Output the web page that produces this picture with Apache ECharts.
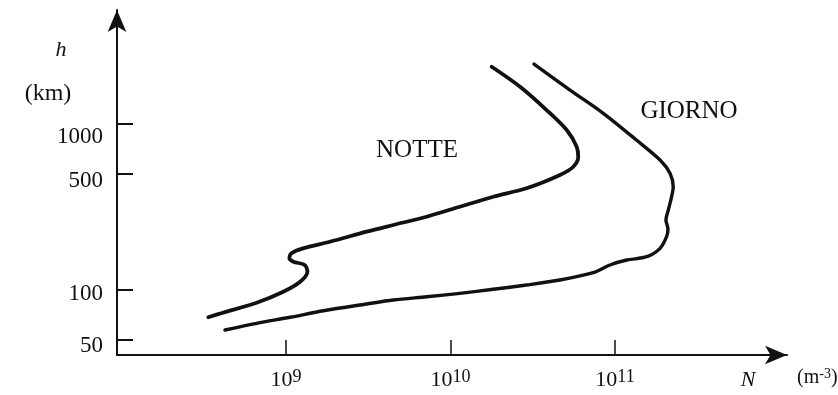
<!DOCTYPE html>
<html>
<head>
<meta charset="utf-8">
<script src="https://cdn.jsdelivr.net/npm/echarts@6/dist/echarts.min.js"></script>
<style>
  html, body { margin: 0; padding: 0; background: #ffffff; }
  #chart { width: 838px; height: 395px; }
</style>
</head>
<body>
<div id="chart"></div>
<script>
// Electron density N (m^-3) versus altitude h (km), night and day profiles
const nightN = [3.37e8, 4.14e8, 6.64e8, 9.63e8, 1.22e9, 1.35e9, 1.30e9, 1.11e9, 1.05e9, 1.08e9,
                1.27e9, 1.85e9, 3.09e9, 4.49e9, 7.17e9, 1.14e10, 1.82e10, 2.90e10, 4.63e10,
                5.58e10, 5.98e10, 5.85e10, 5.09e10, 3.84e10, 2.65e10, 1.78e10];
const nightH = [68.5, 73.0, 83.9, 97.7, 112.2, 128.9, 141.5, 148.1, 155.2, 166.4,
                178.3, 195.4, 224.5, 246.4, 276.4, 317.5, 364.8, 410.1, 493,
                553, 635, 730, 920, 1214, 1677, 2214];

const dayN = [4.26e8, 6.64e8, 1.06e9, 1.69e9, 3.09e9, 4.49e9, 7.17e9, 1.14e10, 1.82e10, 2.90e10,
              4.63e10, 7.38e10, 9.32e10, 1.18e11, 1.56e11, 1.88e11, 2.06e11, 2.10e11, 2.04e11,
              2.11e11, 2.21e11, 2.26e11, 2.16e11, 1.88e11, 1.35e11, 8.49e10, 5.33e10, 3.22e10];
const dayH = [57.4, 63.0, 68.5, 75.0, 82.4, 87.1, 91.1, 95.5, 101, 107.2,
              114.9, 127.1, 141.5, 151.6, 158.7, 178.3, 209.5, 233, 264,
              303.4, 364.8, 419, 505, 607, 801, 1160, 1602, 2298];

const xTicks = [1e9, 1e10, 1e11];
const yTicks = [50, 100, 500, 1000];
const curveNames = ['NOTTE', 'GIORNO'];

const serif = '"Liberation Serif", "Times New Roman", serif';
const ink = '#111111';

const pairs = (xs, ys) => xs.map((v, i) => [v, ys[i]]);

// individual vertical nudges of the height labels
const yLabelStyle = { 50: 'l50', 100: 'l100', 500: 'l500', 1000: 'l1000' };

const chart = echarts.init(document.getElementById('chart'), null, { renderer: 'canvas' });

chart.setOption({
  animation: false,
  backgroundColor: '#ffffff',
  grid: { left: 117, right: 51, top: 10, bottom: 40, containLabel: false },
  xAxis: {
    type: 'log',
    logBase: 10,
    min: 9.397e7,
    max: 1.111e12,
    splitLine: { show: false },
    axisLine: {
      show: true,
      onZero: false,
      lineStyle: { color: ink, width: 2 },
      symbol: ['none', 'arrow'],
      symbolSize: [14, 22]
    },
    axisTick: {
      show: true,
      inside: true,
      length: 15,
      customValues: xTicks,
      lineStyle: { color: ink, width: 1.5 }
    },
    axisLabel: {
      show: true,
      margin: 13,
      customValues: xTicks,
      color: ink,
      fontFamily: serif,
      formatter: v => '{b|10}{s|' + Math.round(Math.log10(v)) + '}',
      rich: {
        b: { fontFamily: serif, fontSize: 22, color: ink },
        s: { fontFamily: serif, fontSize: 18, color: ink, padding: [0, 0, 7, 0] }
      }
    }
  },
  yAxis: {
    type: 'log',
    logBase: 10,
    min: 40.6,
    max: 4862,
    splitLine: { show: false },
    axisLine: {
      show: true,
      onZero: false,
      lineStyle: { color: ink, width: 2 },
      symbol: ['none', 'arrow'],
      symbolSize: [14, 22]
    },
    axisTick: {
      show: true,
      inside: true,
      length: 16,
      customValues: yTicks,
      lineStyle: { color: ink, width: 2 }
    },
    axisLabel: {
      show: true,
      margin: 14,
      customValues: yTicks,
      color: ink,
      fontFamily: serif,
      fontSize: 23,
      formatter: v => '{' + yLabelStyle[Math.round(v)] + '|' + Math.round(v) + '}',
      rich: {
        l50: { fontFamily: serif, fontSize: 23, color: ink, padding: [12, 0, 0, 0] },
        l100: { fontFamily: serif, fontSize: 23, color: ink, padding: [8, 0, 0, 0] },
        l500: { fontFamily: serif, fontSize: 23, color: ink, padding: [14, 0, 0, 0] },
        l1000: { fontFamily: serif, fontSize: 23, color: ink, padding: [26, 0, 0, 0] }
      }
    }
  },
  series: [
    {
      name: curveNames[0],
      type: 'line',
      data: pairs(nightN, nightH),
      smooth: 0.3,
      showSymbol: false,
      lineStyle: { color: ink, width: 3.8, cap: 'round', join: 'round' }
    },
    {
      name: curveNames[1],
      type: 'line',
      data: pairs(dayN, dayH),
      smooth: 0.3,
      showSymbol: false,
      lineStyle: { color: ink, width: 3.4, cap: 'round', join: 'round' }
    }
  ],
  graphic: [
    { type: 'text', x: 61, y: 50, style: { text: 'h', font: 'italic 22px ' + serif, fill: ink, align: 'center', verticalAlign: 'middle' } },
    { type: 'text', x: 48, y: 94, style: { text: '(km)', font: '24px ' + serif, fill: ink, align: 'center', verticalAlign: 'middle' } },
    { type: 'text', x: 417, y: 150, style: { text: curveNames[0], font: '25px ' + serif, fill: ink, align: 'center', verticalAlign: 'middle' } },
    { type: 'text', x: 689, y: 111, style: { text: curveNames[1], font: '25px ' + serif, fill: ink, align: 'center', verticalAlign: 'middle' } },
    { type: 'text', x: 748, y: 380, style: { text: 'N', font: 'italic 22px ' + serif, fill: ink, align: 'center', verticalAlign: 'middle' } },
    {
      type: 'text', x: 797, y: 378,
      style: {
        text: '{p|(m}{s|-3}{p|)}',
        align: 'left', verticalAlign: 'middle', fill: ink,
        rich: {
          p: { fontFamily: serif, fontSize: 20, color: ink },
          s: { fontFamily: serif, fontSize: 14, color: ink, padding: [0, 0, 8, 0] }
        }
      }
    }
  ]
});
</script>
</body>
</html>
